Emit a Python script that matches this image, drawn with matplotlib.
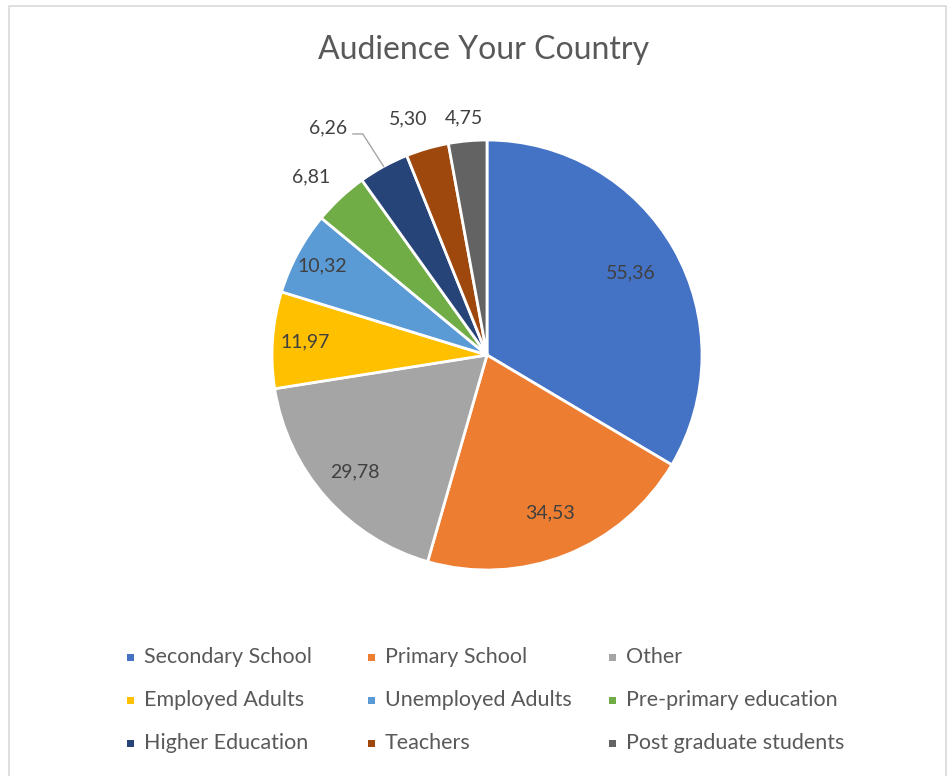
import numpy as np
import matplotlib
matplotlib.use("Agg")
import matplotlib.pyplot as plt
from matplotlib.patches import Rectangle

plt.rcParams['font.family'] = ['Lato', 'DejaVu Sans']

categories = ["Secondary School", "Primary School", "Other",
              "Employed Adults", "Unemployed Adults", "Pre-primary education",
              "Higher Education", "Teachers", "Post graduate students"]
values = [55.36, 34.53, 29.78, 11.97, 10.32, 6.81, 6.26, 5.30, 4.75]
colors = ["#4472C4", "#ED7D31", "#A5A5A5", "#FFC000", "#5B9BD5",
          "#70AD47", "#264478", "#9E480E", "#636363"]

# data label placement: radius (1.0 = pie edge) and angular nudge in degrees
label_dist = [0.77, 0.79, 0.82, 0.85, 0.87, 1.165, 1.29, 1.16, 1.11]
label_nudge = [0, 0, 0, 0, 0, 1.7, 6.3, 2.3, 0.3]

W, H = 951, 776
fig = plt.figure(figsize=(W / 100, H / 100), dpi=100)
fig.patch.set_facecolor("white")

# thin chart-area frame
fig.add_artist(Rectangle((9 / W, -0.01), (946 - 9) / W, (H - 6) / H + 0.01,
                         transform=fig.transFigure, fill=False,
                         edgecolor="#d9d9d9", linewidth=1.2))

fig.text(484 / W, 1 - 50 / H, "Audience Your Country", ha="center", va="center",
         fontsize=23, color="#595959")

# pie axes: centre (487, 355) px, radius 215 px
r_px = 215
span = 1.5
side = 2 * span * r_px
cx, cy = 487, H - 355
ax = fig.add_axes([(cx - side / 2) / W, (cy - side / 2) / H, side / W, side / H])
wedges, _ = ax.pie(values, colors=colors, startangle=90, counterclock=False,
                   radius=1.0, wedgeprops=dict(edgecolor="white", linewidth=2))
ax.set_xlim(-span, span)
ax.set_ylim(-span, span)
ax.set_aspect("equal")
ax.axis("off")

for i, (w, v) in enumerate(zip(wedges, values)):
    mid = np.deg2rad((w.theta1 + w.theta2) / 2)
    ang = mid + np.deg2rad(label_nudge[i])
    d = label_dist[i]
    x, y = d * np.cos(ang), d * np.sin(ang)
    txt = f"{v:.2f}".replace(".", ",")
    ax.text(x, y, txt, ha="center", va="center", fontsize=14, color="#404040")
    if categories[i] == "Higher Education":
        # leader line from label to slice edge
        ex, ey = np.cos(mid), np.sin(mid)
        ax.plot([x + 0.117, x + 0.163, ex], [y - 0.028, y - 0.028, ey],
                color="#a6a6a6", linewidth=1)

# legend grid, 3 columns
col_x = [130, 371, 612]
row_y = [657, 700, 743]
for i, (name, c) in enumerate(zip(categories, colors)):
    lx = col_x[i % 3]
    ly = row_y[i // 3]
    fig.add_artist(Rectangle(((lx - 3.5) / W, (H - ly - 3.5) / H), 7 / W, 7 / H,
                             transform=fig.transFigure, facecolor=c,
                             edgecolor="none"))
    fig.text((lx + 14) / W, 1 - ly / H, name, ha="left", va="center",
             fontsize=15.5, color="#595959")

fig.savefig("out.png", dpi=100, facecolor="white")
